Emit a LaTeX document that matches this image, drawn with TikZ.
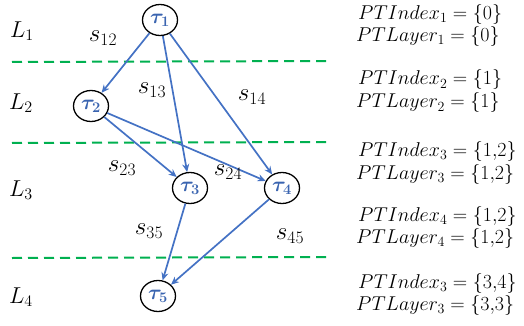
\RequirePackage{fix-cm}
\documentclass[tikz,border=0pt]{standalone}
\usepackage{amsmath,bm}
\usetikzlibrary{shapes.geometric,arrows.meta}
\definecolor{eblue}{HTML}{4472C4}
\definecolor{tblue}{HTML}{3A64B0}
\definecolor{lgreen}{HTML}{00B050}
\tikzset{
  task/.style={ellipse,draw=black,line width=1.3pt,minimum width=35pt,minimum height=31pt,inner sep=0pt,
    font=\fontsize{21}{24}\selectfont,text=tblue},
  edge/.style={draw=eblue,line width=1.7pt,-{Stealth[length=8pt,width=7pt]}},
  layerline/.style={draw=lgreen,line width=2pt,dash pattern=on 10pt off 6pt},
  lab/.style={font=\fontsize{25}{28}\selectfont,inner sep=0pt},
  llab/.style={font=\fontsize{23}{26}\selectfont,inner sep=0pt},
  info/.style={font=\fontsize{20}{22}\selectfont,inner sep=0pt,anchor=west},
}
\begin{document}
\begin{tikzpicture}[x=1pt,y=-1pt]
\useasboundingbox (0,0) rectangle (524,326);
% layer separators
\coordinate (d1a) at (12,62); \coordinate (d1b) at (331,61);
\coordinate (d2a) at (12,143); \coordinate (d2b) at (331,142);
\coordinate (d3a) at (12,258); \coordinate (d3b) at (331,257);
\draw[layerline] (d1a) -- (d1b);
\draw[layerline] (d2a) -- (d2b);
\draw[layerline] (d3a) -- (d3b);
% layer labels
\node[llab] (L1) at (22,31) {$L_1$};
\node[llab] (L2) at (21,103) {$L_2$};
\node[llab] (L3) at (21,190) {$L_3$};
\node[llab] (L4) at (21,297) {$L_4$};
% tasks
\node[task] (t1) at (160,20) {$\bm{\tau_1}$};
\node[task] (t2) at (91,106) {$\bm{\tau_2}$};
\node[task] (t3) at (190,188) {$\bm{\tau_3}$};
\node[task] (t4) at (282,188) {$\bm{\tau_4}$};
\node[task] (t5) at (158,296) {$\bm{\tau_5}$};
% edges
\draw[edge] (t1) -- (t2);
\draw[edge] (t1) -- (t3);
\draw[edge] (t1) -- (t4);
\draw[edge] (t2) -- (t3);
\draw[edge] (t2) -- (t4);
\draw[edge] (t3) -- (t5);
\draw[edge] (t4) -- (t5);
% edge labels
\node[lab] (s12) at (103,38) {$s_{12}$};
\node[lab] (s13) at (152,90) {$s_{13}$};
\node[lab] (s14) at (252,97) {$s_{14}$};
\node[lab] (s23) at (122,168) {$s_{23}$};
\node[lab] (s24) at (228,172) {$s_{24}$};
\node[lab] (s35) at (149,231) {$s_{35}$};
\node[lab] (s45) at (290,236) {$s_{45}$};
% info
\node[info] (i1) at (358,15) {$PTIndex_1=\{0\}$};
\node[info] (l1) at (356,37) {$PTLayer_1=\{0\}$};
\node[info] (i2) at (358,80) {$PTIndex_2=\{1\}$};
\node[info] (l2) at (356,103) {$PTLayer_2=\{1\}$};
\node[info] (i3) at (358,151) {$PTIndex_3=\{1{,}2\}$};
\node[info] (l3) at (356,174) {$PTLayer_3=\{1{,}2\}$};
\node[info] (i4) at (358,216) {$PTIndex_4=\{1{,}2\}$};
\node[info] (l4) at (356,238) {$PTLayer_4=\{1{,}2\}$};
\node[info] (i5) at (358,283) {$PTIndex_3=\{3{,}4\}$};
\node[info] (l5) at (356,305) {$PTLayer_3=\{3{,}3\}$};
\end{tikzpicture}
\end{document}
